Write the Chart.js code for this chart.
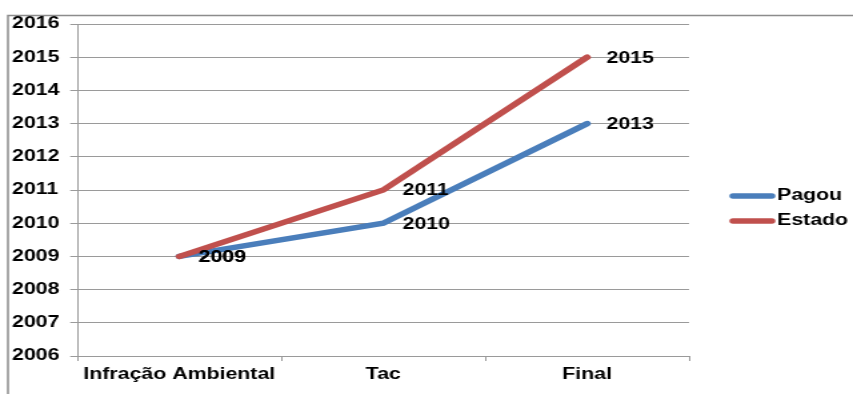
<!DOCTYPE html>
<html>
<head>
<meta charset="utf-8">
<script src="https://cdn.jsdelivr.net/npm/chart.js@4/dist/chart.umd.min.js"></script>
<style>
    html, body { margin: 0; padding: 0; background: #fff; overflow: hidden; }
    /* a imagem original está esticada na horizontal */
    #caixa { width: 640px; height: 394px; transform: scaleX(1.3328); transform-origin: 0 0; }
</style>
</head>
<body>
<div id="caixa"><canvas id="graficoAnos"></canvas></div>
<script>
// ======== DADOS ========
const categorias = ["Infração Ambiental", "Tac", "Final"];
const pagou = [2009, 2010, 2013];
const estado = [2009, 2011, 2015];
const anosEixo = [2006, 2007, 2008, 2009, 2010, 2011, 2012, 2013, 2014, 2015, 2016];

const fonte = "'Liberation Sans', Arial, sans-serif";
const corGrade = "#9a9a9a";

// ======== MOLDURA, RÓTULOS E LEGENDA ========
const extras = {
    id: "extras",
    beforeDraw(chart) {
        const ctx = chart.ctx;
        ctx.save();
        ctx.strokeStyle = "#8c8c8c";
        ctx.lineWidth = 1.5;
        ctx.beginPath();
        ctx.moveTo(6, 400);
        ctx.lineTo(6, 15.5);
        ctx.lineTo(660, 15.5);
        ctx.stroke();
        ctx.restore();
    },
    afterDatasetsDraw(chart) {
        const ctx = chart.ctx;
        ctx.save();
        ctx.font = "bold 16px " + fonte;
        ctx.fillStyle = "#000";
        ctx.textAlign = "left";
        ctx.textBaseline = "middle";
        chart.data.datasets.forEach((ds, i) => {
            chart.getDatasetMeta(i).data.forEach((pt, j) => {
                ctx.fillText(String(ds.data[j]), pt.x + 14.5, pt.y + 1);
            });
        });
        ctx.restore();
    },
    afterDraw(chart) {
        const ctx = chart.ctx;
        ctx.save();
        ctx.font = "bold 16px " + fonte;
        ctx.textBaseline = "middle";
        ctx.lineCap = "round";
        ctx.lineWidth = 5.5;
        chart.data.datasets.forEach((ds, i) => {
            const y = 196 + i * 25;
            ctx.strokeStyle = ds.borderColor;
            ctx.beginPath();
            ctx.moveTo(550, y);
            ctx.lineTo(579, y);
            ctx.stroke();
            ctx.fillStyle = "#000";
            ctx.fillText(ds.label, 583, y);
        });
        ctx.restore();
    }
};

// ======== GRÁFICO ========
const graficoAnos = document.getElementById("graficoAnos");

new Chart(graficoAnos, {
    type: "line",
    data: {
        labels: categorias,
        datasets: [{
            label: "Pagou",
            data: pagou,
            borderColor: "#4a7ebb",
            borderWidth: 5.5,
            pointRadius: 0,
            borderCapStyle: "round",
            order: 2
        }, {
            label: "Estado",
            data: estado,
            borderColor: "#c0504d",
            borderWidth: 5.5,
            pointRadius: 0,
            borderCapStyle: "round",
            order: 1
        }]
    },
    options: {
        responsive: true,
        maintainAspectRatio: false,
        animation: false,
        devicePixelRatio: 1,
        layout: { padding: { left: 9, top: 24, right: 123, bottom: 0 } },
        plugins: {
            legend: { display: false },
            tooltip: { enabled: false }
        },
        scales: {
            x: {
                offset: true,
                afterFit: s => { s.height = 38; },
                grid: { drawOnChartArea: false, offset: true, tickLength: 5, color: corGrade },
                border: { color: corGrade },
                ticks: { color: "#000", font: { family: fonte, size: 16, weight: "bold" }, padding: 4, maxRotation: 0 }
            },
            y: {
                min: anosEixo[0],
                max: anosEixo[anosEixo.length - 1],
                afterFit: s => { s.width = 49; },
                grid: { color: corGrade, tickLength: 5.3 },
                border: { color: corGrade },
                ticks: {
                    stepSize: 1,
                    crossAlign: "far",
                    color: "#000",
                    font: { family: fonte, size: 16, weight: "bold" },
                    callback: v => String(v)
                }
            }
        }
    },
    plugins: [extras]
});
</script>
</body>
</html>
